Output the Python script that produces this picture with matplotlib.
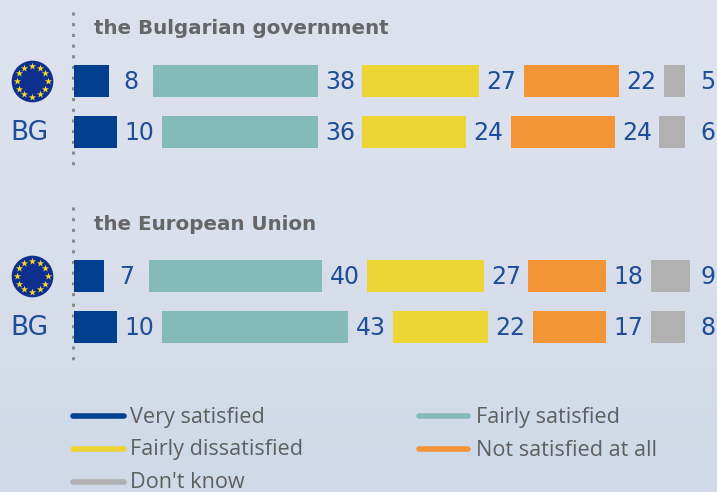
# -*- coding: utf-8 -*-
import numpy as np
import matplotlib
matplotlib.use("Agg")
import matplotlib.pyplot as plt
from matplotlib.colors import LinearSegmentedColormap

W, H = 717, 492

titles = ["the Bulgarian government", "the European Union"]
row_labels = ["EU", "BG", "EU", "BG"]
categories = ["Very satisfied", "Fairly satisfied", "Fairly dissatisfied",
              "Not satisfied at all", "Don't know"]
colors = ["#00408f", "#84bbba", "#eed536", "#f39436", "#b1b1b1"]

very_satisfied = [8, 10, 7, 10]
fairly_satisfied = [38, 36, 40, 43]
fairly_dissatisfied = [27, 24, 27, 22]
not_satisfied = [22, 24, 18, 17]
dont_know = [5, 6, 9, 8]
series = [very_satisfied, fairly_satisfied, fairly_dissatisfied, not_satisfied, dont_know]

row_y = [81, 132, 276, 327]
bar_h = 32
unit = 4.33   # pixels per percent point
gap = 10.3    # space for the number, in percent points
blue_text = "#1f4e98"
grey_text = "#5f5f5f"

fig = plt.figure(figsize=(W / 100, H / 100), dpi=100)

# background and decoration, in pixels
bg = fig.add_axes([0, 0, 1, 1])
bg.set_xlim(0, W)
bg.set_ylim(H, 0)
bg.axis("off")
cmap = LinearSegmentedColormap.from_list("bg", ["#dde2ee", "#d9dfeb", "#cfd9e7"])
bg.imshow(np.linspace(0, 1, 100).reshape(-1, 1), cmap=cmap, aspect="auto", extent=[0, W, H, 0], zorder=0)

for y0, y1 in [(12, 167), (207, 362)]:
    bg.plot([73, 73], [y0, y1], color="#8a8a8a", lw=2.2, ls=(0, (1, 2.5)), zorder=1)

# the bars
ax = fig.add_axes([0, 0, 1, 1])
ax.patch.set_visible(False)
ax.set_xlim(-74 / unit, (W - 74) / unit)
ax.set_ylim(H, 0)
ax.axis("off")

for r, y in enumerate(row_y):
    left = 0
    for s, vals in enumerate(series):
        v = vals[r]
        ax.barh(y, v, left=left, height=bar_h, color=colors[s])
        label_x = left + v + gap / 2
        if s == 4:
            label_x = 708 / unit - 74 / unit
        ax.text(label_x, y + 1, str(v), color=blue_text, fontsize=17, ha="center", va="center")
        left += v + gap

# panel titles
bg.text(94, 29, titles[0], color="#666666", fontsize=14.3, fontweight="bold", va="center", zorder=3)
bg.text(94, 224, titles[1], color="#666666", fontsize=14.3, fontweight="bold", va="center", zorder=3)

# row labels: BG text, EU flag
for y, lab in zip(row_y, row_labels):
    if lab == "BG":
        bg.text(29.5, y + 1, lab, color=blue_text, fontsize=19, ha="center", va="center", zorder=3)
    else:
        bg.scatter([32], [y], s=900, color="#0f2f8f", linewidths=0, zorder=3)
        ang = np.arange(12) * np.pi / 6
        bg.scatter(32 + 15.5 * np.cos(ang), y + 15.5 * np.sin(ang), s=30, marker="*",
                   color="#f6d72c", linewidths=0, zorder=4)

# legend
legend_x = [(73, 124, 130), (419, 468, 476), (73, 124, 130), (419, 468, 476), (73, 124, 130)]
legend_y = [416, 416, 449, 449, 482]
for i, name in enumerate(categories):
    x0, x1, tx = legend_x[i]
    bg.plot([x0, x1], [legend_y[i], legend_y[i]], color=colors[i], lw=4, solid_capstyle="round", zorder=3)
    bg.text(tx, legend_y[i] + 1, name, color=grey_text, fontsize=15.6, family="Open Sans", va="center", zorder=3)

fig.savefig("out.png", dpi=100)
